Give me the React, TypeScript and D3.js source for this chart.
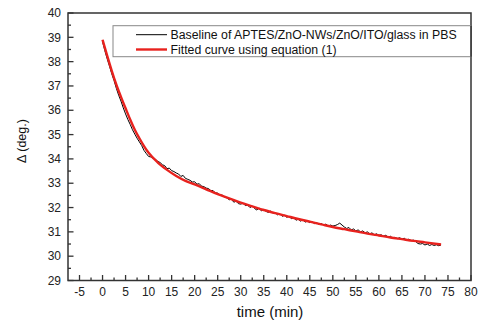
import React from "react";
import * as d3 from "d3";

const baselineStart = 0;
const baselineStep = 0.5;
const baselineValues: number[] = [
  38.82, 38.45, 38.12, 37.82, 37.5, 37.22, 36.9, 36.62, 36.38, 36.1,
  35.85, 35.62, 35.42, 35.2, 35.02, 34.85, 34.7, 34.55, 34.35, 34.22,
  34.1, 34.08, 34.02, 33.98, 33.9, 33.85, 33.76, 33.72, 33.6, 33.62,
  33.52, 33.48, 33.42, 33.38, 33.28, 33.32, 33.2, 33.16, 33.12, 33.05,
  33.06, 32.96, 32.98, 32.88, 32.86, 32.8, 32.78, 32.7, 32.7, 32.6,
  32.6, 32.5, 32.52, 32.42, 32.4, 32.32, 32.34, 32.22, 32.26, 32.16,
  32.14, 32.18, 32.08, 32.1, 32.0, 32.06, 31.96, 31.9, 31.98, 31.86,
  31.92, 31.84, 31.8, 31.86, 31.76, 31.78, 31.7, 31.74, 31.64, 31.68,
  31.6, 31.64, 31.54, 31.58, 31.48, 31.52, 31.44, 31.5, 31.4, 31.44,
  31.38, 31.42, 31.34, 31.38, 31.3, 31.34, 31.28, 31.32, 31.24, 31.28,
  31.24, 31.26, 31.3, 31.36, 31.28, 31.2, 31.14, 31.18, 31.08, 31.12,
  31.04, 31.08, 31.0, 31.04, 30.96, 31.0, 30.92, 30.96, 30.88, 30.92,
  30.86, 30.88, 30.82, 30.86, 30.78, 30.82, 30.74, 30.78, 30.72, 30.76,
  30.7, 30.74, 30.66, 30.7, 30.64, 30.66, 30.6, 30.52, 30.5, 30.52,
  30.46, 30.5, 30.44, 30.48, 30.44, 30.47, 30.43, 30.46,
];

const fitTimes: number[] = [0, 1, 2, 3, 4, 5, 6, 7, 8, 9, 10, 12, 14, 16, 18, 20, 22.5, 25, 27.5, 30, 32.5, 35, 37.5, 40, 42.5, 45, 47.5, 50, 52.5, 55, 57.5, 60, 62.5, 65, 67.5, 70, 73.5];
const fitValues: number[] = [38.9, 38.25, 37.62, 37.05, 36.55, 36.08, 35.62, 35.2, 34.85, 34.53, 34.25, 33.85, 33.55, 33.3, 33.1, 32.95, 32.75, 32.55, 32.38, 32.2, 32.05, 31.9, 31.77, 31.65, 31.53, 31.42, 31.31, 31.2, 31.11, 31.02, 30.93, 30.85, 30.77, 30.7, 30.63, 30.57, 30.48];

const xMajorTicks: number[] = [-5, 0, 5, 10, 15, 20, 25, 30, 35, 40, 45, 50, 55, 60, 65, 70, 75, 80];
const yMajorTicks: number[] = [29, 30, 31, 32, 33, 34, 35, 36, 37, 38, 39, 40];

const legendLabels: string[] = [
  "Baseline of APTES/ZnO-NWs/ZnO/ITO/glass in PBS",
  "Fitted curve using equation (1)",
];

const xTitle = "time (min)";
const yTitle = "Δ (deg.)";

export default function App() {
  const W = 479, H = 320;
  const L = 68, R = 471, T = 13, B = 280.5;
  const x = d3.scaleLinear().domain([-7.5, 80]).range([L, R]);
  const y = d3.scaleLinear().domain([29, 40]).range([B, T]);

  const baseline = baselineValues.map((v, i) => [baselineStart + i * baselineStep, v] as [number, number]);
  const fit = fitTimes.map((t, i) => [t, fitValues[i]] as [number, number]);

  const line = d3.line<[number, number]>().x(d => x(d[0])).y(d => y(d[1]));
  const fitLine = d3.line<[number, number]>().x(d => x(d[0])).y(d => y(d[1])).curve(d3.curveMonotoneX);

  const xMinor = xMajorTicks.slice(0, -1).map(t => t + 2.5).filter(t => t > -7.5 && t < 80);
  const yMinor = yMajorTicks.slice(0, -1).map(t => t + 0.5);

  const axisColor = "#333";
  const font = "Arial, 'Liberation Sans', Helvetica, sans-serif";
  const red = "#e8221e";

  const legX = 113, legY = 25.7, legW = R - 113, legH = 31;

  return (
    <svg width={W} height={H} style={{ position: "absolute", left: 0, top: 0, background: "#fff" }} fontFamily={font}>
      <rect x={0} y={0} width={W} height={H} fill="#fff" />
      <path d={line(baseline) || ""} fill="none" stroke="#000" strokeWidth={1} />
      <path d={fitLine(fit) || ""} fill="none" stroke={red} strokeWidth={2.4} />
      <rect x={L} y={T} width={R - L} height={B - T} fill="none" stroke={axisColor} strokeWidth={1.5} />
      {xMajorTicks.map(t => (
        <g key={"xm" + t}>
          <line x1={x(t)} x2={x(t)} y1={B} y2={B - 5.5} stroke={axisColor} strokeWidth={1.3} />
          <text x={x(t)} y={296} fontSize={12} textAnchor="middle" fill="#222">{t}</text>
        </g>
      ))}
      {xMinor.map(t => (
        <line key={"xn" + t} x1={x(t)} x2={x(t)} y1={B} y2={B - 3} stroke={axisColor} strokeWidth={1.3} />
      ))}
      {yMajorTicks.map(t => (
        <g key={"ym" + t}>
          <line x1={L} x2={L + 5.5} y1={y(t)} y2={y(t)} stroke={axisColor} strokeWidth={1.3} />
          <text x={61} y={y(t) + 4.2} fontSize={12} textAnchor="end" fill="#222">{t}</text>
        </g>
      ))}
      {yMinor.map(t => (
        <line key={"yn" + t} x1={L} x2={L + 3} y1={y(t)} y2={y(t)} stroke={axisColor} strokeWidth={1.3} />
      ))}
      <rect x={legX} y={legY} width={legW} height={legH} fill="#fff" stroke="#888" strokeWidth={1} />
      <line x1={136} x2={167} y1={34.7} y2={34.7} stroke="#000" strokeWidth={1} />
      <line x1={136} x2={167} y1={49.5} y2={49.5} stroke={red} strokeWidth={2.4} />
      <text x={170.5} y={38.9} fontSize={12.3} fill="#111">{legendLabels[0]}</text>
      <text x={170.5} y={53.9} fontSize={12.3} fill="#111">{legendLabels[1]}</text>
      <rect x={R - 0.75} y={legY} width={1.5} height={legH} fill={axisColor} />
      <text x={270} y={317} fontSize={15} textAnchor="middle" fill="#111">{xTitle}</text>
      <text transform={`translate(26,141) rotate(-90)`} fontSize={12.5} textAnchor="middle" fill="#111">{yTitle}</text>
    </svg>
  );
}
